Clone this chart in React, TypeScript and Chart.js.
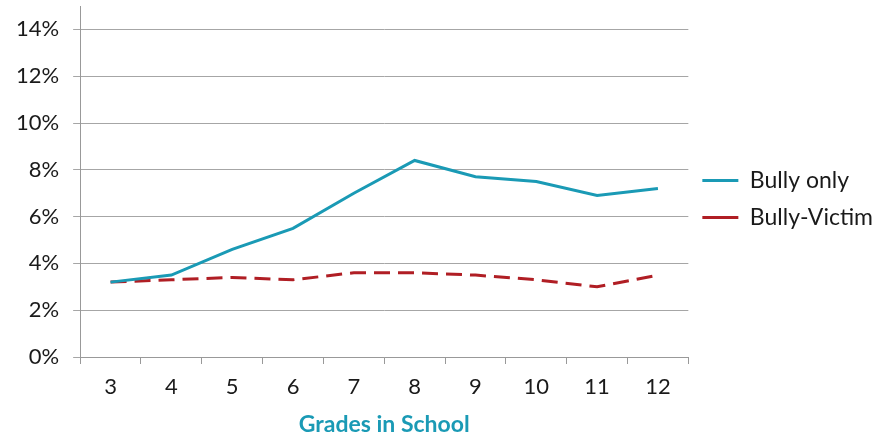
import React, { useEffect, useRef } from "react";
import { Chart, registerables } from "chart.js";

Chart.register(...registerables);

const grades = ["3", "4", "5", "6", "7", "8", "9", "10", "11", "12"];
const bullyOnly = [3.2, 3.5, 4.6, 5.5, 7.0, 8.4, 7.7, 7.5, 6.9, 7.2];
const bullyVictim = [3.2, 3.3, 3.4, 3.3, 3.6, 3.6, 3.5, 3.3, 3.0, 3.5];
const yTicks = [0, 2, 4, 6, 8, 10, 12, 14];

const TEAL = "#1A9AB5";
const RED = "#B01E24";
const FONT = "Lato, 'Open Sans', sans-serif";
const TEXT = "#1a1a1a";

const legendShift = {
  id: "legendShift",
  afterLayout(chart: any) {
    const lg = chart.legend;
    if (lg) {
      lg.top -= 23;
      lg.bottom -= 23;
    }
  },
};

export default function App() {
  const ref = useRef<HTMLCanvasElement | null>(null);
  useEffect(() => {
    document.body.style.margin = "0";
    const ctx = ref.current!;
    const chart = new Chart(ctx, {
      type: "line",
      data: {
        labels: grades,
        datasets: [
          {
            label: "Bully only",
            data: bullyOnly,
            borderColor: TEAL,
            backgroundColor: TEAL,
            borderWidth: 3,
            pointRadius: 0,
            tension: 0,
          },
          {
            label: "Bully-Victim",
            data: bullyVictim,
            borderColor: RED,
            backgroundColor: RED,
            borderWidth: 3,
            borderDash: [16, 8],
            pointRadius: 0,
            tension: 0,
          },
        ],
      },
      options: {
        responsive: false,
        animation: false,
        layout: { padding: { top: 6, right: -7, left: 2, bottom: 0 } },
        plugins: {
          legend: {
            position: "right",
            labels: {
              usePointStyle: true,
              pointStyle: "line",
              pointStyleWidth: 36,
              boxWidth: 36,
              boxHeight: 20,
              padding: 14,
              color: TEXT,
              font: { family: FONT, size: 23 },
            },
          },
          tooltip: { enabled: false },
        },
        scales: {
          x: {
            offset: true,
            grid: {
              display: true,
              drawOnChartArea: false,
              drawTicks: true,
              tickLength: 7,
              offset: true,
              color: "#999",
            },
            border: { color: "#999", width: 1 },
            ticks: {
              color: TEXT,
              font: { family: FONT, size: 22 },
              padding: 10,
            },
            title: {
              display: true,
              text: "Grades in School",
              color: TEAL,
              font: { family: FONT, size: 23, weight: "bold" },
              padding: { top: 0, bottom: 0 },
            },
          },
          y: {
            min: 0,
            max: 15,
            afterBuildTicks(scale: any) {
              scale.ticks = yTicks.map((v) => ({ value: v }));
            },
            afterFit(scale: any) {
              scale.paddingTop = 0;
            },
            grid: {
              color: "#A6A6A6",
              lineWidth: 1,
              tickLength: 7,
            },
            border: { color: "#999", width: 1 },
            ticks: {
              color: TEXT,
              font: { family: FONT, size: 22 },
              padding: 14,
              callback: (v: any) => v + "%",
            },
          },
        },
      },
      plugins: [legendShift],
    } as any);
    return () => chart.destroy();
  }, []);
  return <canvas ref={ref} width={876} height={438} style={{ display: "block" }} />;
}
